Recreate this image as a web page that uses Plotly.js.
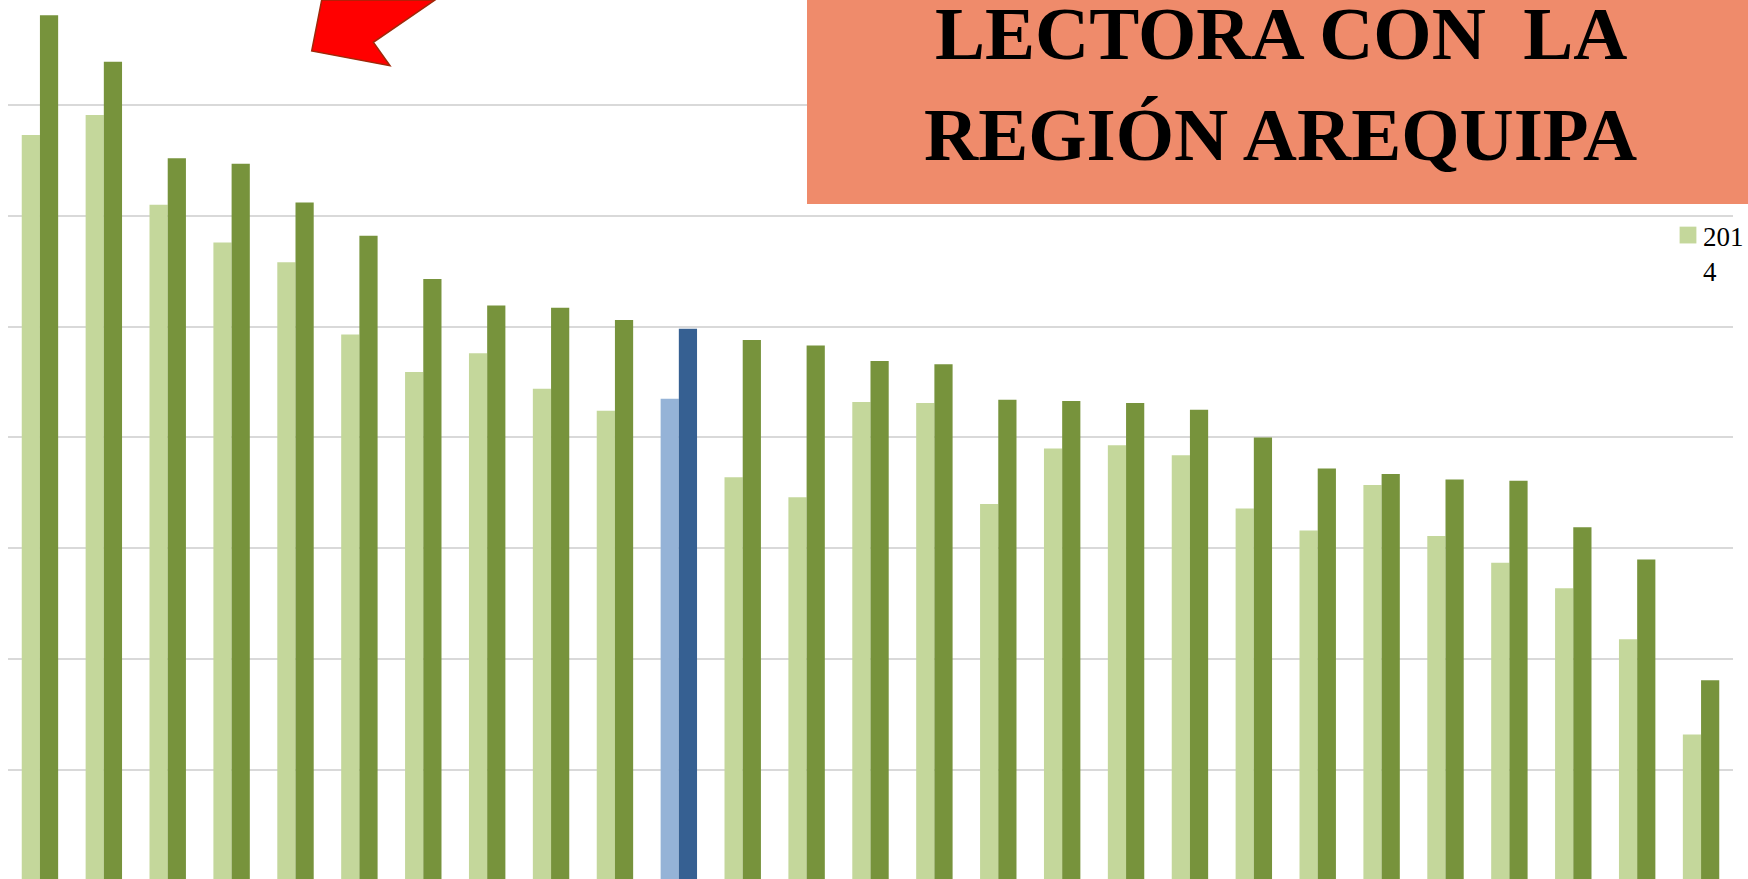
<!DOCTYPE html>
<html>
<head>
<meta charset="utf-8">
<script src="https://cdn.plot.ly/plotly-3.0.1.min.js"></script>
<style>
html,body{margin:0;padding:0;background:#ffffff;overflow:hidden}
#chart{width:1748px;height:879px}
</style>
</head>
<body>
<div id="chart"></div>
<script>
// ---- data ----
const categories = ['Región 1','Región 2','Región 3','Región 4','Región 5','Región 6','Región 7','Región 8','Región 9','Región 10',
  'Perú','Región 11','Región 12','Región 13','Región 14','Región 15','Región 16','Región 17','Región 18','Región 19',
  'Región 20','Región 21','Región 22','Región 23','Región 24','Región 25','Región 26'];
const values2014 = [67.3, 69.1, 61.0, 57.6, 55.8, 49.3, 45.9, 47.6, 44.4, 42.4,
  43.5, 36.4, 34.6, 43.2, 43.1, 34.0, 39.0, 39.3, 38.4, 33.6,
  31.6, 35.7, 31.1, 28.7, 26.4, 21.8, 13.2];
const values2015 = [78.1, 73.9, 65.2, 64.7, 61.2, 58.2, 54.3, 51.9, 51.7, 50.6,
  49.8, 48.8, 48.3, 46.9, 46.6, 43.4, 43.3, 43.1, 42.5, 40.0,
  37.2, 36.7, 36.2, 36.1, 31.9, 29.0, 18.1];
const highlightCategory = 'Perú';
const seriesNames = ['2014', '2015'];
const legendLabel2014 = '201<br>4';
const titleLines = ['LECTORA CON\u00A0 LA', 'REGIÓN AREQUIPA'];

// ---- layout helpers (pixel -> paper) ----
const W = 1748, H = 879, ML = 8, MR = 15;
const PW = W - ML - MR;
const px = X => (X - ML) / PW;
const py = Y => (H - Y) / H;

const lightColors = categories.map(c => c === highlightCategory ? '#95B3D7' : '#C4D79B');
const darkColors  = categories.map(c => c === highlightCategory ? '#366092' : '#77933C');

const traces = [
  {type:'bar', x:categories, y:values2014, name:legendLabel2014, marker:{color:lightColors},
   showlegend:true, hoverinfo:'x+y'},
  {type:'bar', x:categories, y:values2015, name:seriesNames[1], marker:{color:darkColors},
   showlegend:false, hoverinfo:'x+y'}
];

const arrowPts = [[321.7,0],[311.7,51],[390,65.7],[373.3,42.3],[435,0]];
const arrowPath = 'M' + arrowPts.map(p => px(p[0]).toFixed(5) + ',' + py(p[1]).toFixed(5)).join(' L') + ' Z';

const titleFont = {family:'Liberation Serif, Times New Roman, serif', size:75, color:'#000000', weight:'bold'};

const layout = {
  width: W, height: H,
  margin: {l: ML, r: MR, t: 0, b: 0, pad: 0, autoexpand: false},
  paper_bgcolor: '#ffffff', plot_bgcolor: '#ffffff',
  barmode: 'group', bargap: 0.43, bargroupgap: 0,
  xaxis: {type:'category', range:[-0.5, 26.5], showticklabels:false, showgrid:false,
          zeroline:false, showline:false, ticks:''},
  yaxis: {range:[0.162, 79.47], dtick:10, tick0:0, showticklabels:false, showgrid:true,
          gridcolor:'#D9D9D9', gridwidth:2, zeroline:false, showline:false, ticks:''},
  showlegend: true,
  legend: {x: px(1663), xanchor:'left', y: py(211), yanchor:'top', valign:'top',
           bgcolor:'rgba(0,0,0,0)', borderwidth:0,
           font:{family:'Liberation Serif, Times New Roman, serif', size:27, color:'#000000'}},
  shapes: [
    {type:'rect', xref:'paper', yref:'paper', x0:px(807), x1:px(1752), y0:py(204), y1:py(-2),
     fillcolor:'#EF8B6B', line:{width:0}, layer:'above'},
    {type:'path', xref:'paper', yref:'paper', path:arrowPath, fillcolor:'#FF0000',
     line:{color:'#A0280A', width:1.5}, layer:'above'}
  ],
  annotations: [
    {xref:'paper', yref:'paper', x:px(1281), y:py(34), xanchor:'center', yanchor:'middle',
     text:titleLines[0], showarrow:false, font:titleFont},
    {xref:'paper', yref:'paper', x:px(1280), y:py(135), xanchor:'center', yanchor:'middle',
     text:titleLines[1], showarrow:false, font:titleFont}
  ]
};

Plotly.newPlot('chart', traces, layout, {displayModeBar:false, staticPlot:true}).then(function(){
  document.querySelectorAll('.legendpoints path').forEach(function(p){
    var t = p.getAttribute('transform') || '';
    p.setAttribute('transform', t + ' translate(5,0) scale(1.4)');
  });
});
</script>
</body>
</html>
